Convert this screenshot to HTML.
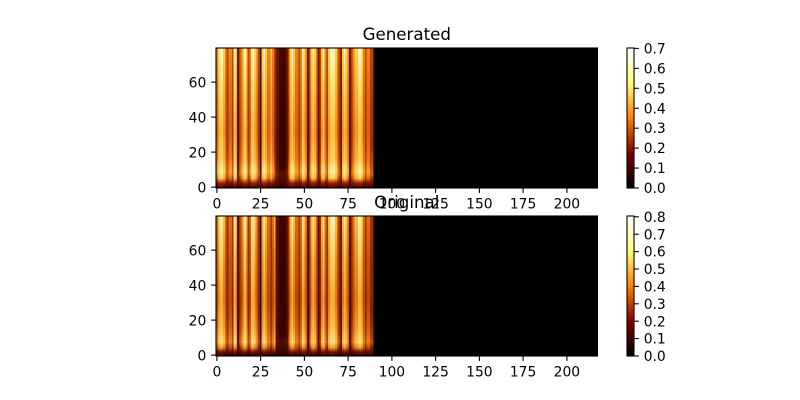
<!DOCTYPE html>
<html><head><meta charset="utf-8"><style>
html,body{margin:0;padding:0;background:#fff;}
svg{display:block;}
text{font-family:"DejaVu Sans","Liberation Sans",sans-serif;fill:#000;}
.t{font-size:13.89px;}
.ti{font-size:16.67px;}
</style></head><body>
<svg width="800" height="400" viewBox="0 0 800 400" xmlns="http://www.w3.org/2000/svg">
<defs>
<linearGradient id="aW" x1="0" y1="0" x2="0" y2="1"><stop offset="0" stop-color="#fff4c0"/><stop offset="0.3" stop-color="#ffe070"/><stop offset="0.6" stop-color="#ffc040"/><stop offset="0.8" stop-color="#ffd060"/><stop offset="0.88" stop-color="#fff0a0"/><stop offset="0.93" stop-color="#ffd060"/><stop offset="0.965" stop-color="#a02000"/><stop offset="1" stop-color="#500000"/></linearGradient>
<linearGradient id="aY" x1="0" y1="0" x2="0" y2="1"><stop offset="0" stop-color="#ffd050"/><stop offset="0.3" stop-color="#ffb030"/><stop offset="0.6" stop-color="#f89020"/><stop offset="0.8" stop-color="#ffb030"/><stop offset="0.88" stop-color="#ffd860"/><stop offset="0.93" stop-color="#ffb030"/><stop offset="0.965" stop-color="#902000"/><stop offset="1" stop-color="#400000"/></linearGradient>
<linearGradient id="aO" x1="0" y1="0" x2="0" y2="1"><stop offset="0" stop-color="#f08818"/><stop offset="0.3" stop-color="#e07010"/><stop offset="0.6" stop-color="#d86010"/><stop offset="0.8" stop-color="#e87818"/><stop offset="0.88" stop-color="#f8a030"/><stop offset="0.93" stop-color="#e07010"/><stop offset="0.965" stop-color="#701000"/><stop offset="1" stop-color="#400000"/></linearGradient>
<linearGradient id="aM" x1="0" y1="0" x2="0" y2="1"><stop offset="0" stop-color="#c04800"/><stop offset="0.4" stop-color="#a83800"/><stop offset="0.7" stop-color="#a03000"/><stop offset="0.85" stop-color="#c05008"/><stop offset="0.9" stop-color="#d06010"/><stop offset="0.95" stop-color="#802000"/><stop offset="1" stop-color="#400000"/></linearGradient>
<linearGradient id="aD" x1="0" y1="0" x2="0" y2="1"><stop offset="0" stop-color="#701800"/><stop offset="0.5" stop-color="#601000"/><stop offset="0.8" stop-color="#581000"/><stop offset="0.9" stop-color="#702000"/><stop offset="1" stop-color="#400000"/></linearGradient>
<linearGradient id="aK" x1="0" y1="0" x2="0" y2="1"><stop offset="0" stop-color="#440800"/><stop offset="0.5" stop-color="#380400"/><stop offset="0.85" stop-color="#3a0400"/><stop offset="0.9" stop-color="#601000"/><stop offset="1" stop-color="#300000"/></linearGradient>

<linearGradient id="bW" x1="0" y1="0" x2="0" y2="1"><stop offset="0" stop-color="#fff0b0"/><stop offset="0.3" stop-color="#ffd060"/><stop offset="0.6" stop-color="#f8a830"/><stop offset="0.8" stop-color="#ffc050"/><stop offset="0.9" stop-color="#ffe080"/><stop offset="0.94" stop-color="#f0a030"/><stop offset="0.97" stop-color="#801800"/><stop offset="1" stop-color="#400000"/></linearGradient>
<linearGradient id="bY" x1="0" y1="0" x2="0" y2="1"><stop offset="0" stop-color="#ffc040"/><stop offset="0.3" stop-color="#f09020"/><stop offset="0.6" stop-color="#e07818"/><stop offset="0.8" stop-color="#f09828"/><stop offset="0.9" stop-color="#ffc050"/><stop offset="0.94" stop-color="#e08020"/><stop offset="0.97" stop-color="#701000"/><stop offset="1" stop-color="#380000"/></linearGradient>
<linearGradient id="bO" x1="0" y1="0" x2="0" y2="1"><stop offset="0" stop-color="#e07010"/><stop offset="0.3" stop-color="#c85808"/><stop offset="0.6" stop-color="#b84800"/><stop offset="0.8" stop-color="#d06010"/><stop offset="0.9" stop-color="#e88020"/><stop offset="0.94" stop-color="#c05008"/><stop offset="0.97" stop-color="#601000"/><stop offset="1" stop-color="#380000"/></linearGradient>
<linearGradient id="bM" x1="0" y1="0" x2="0" y2="1"><stop offset="0" stop-color="#a83000"/><stop offset="0.4" stop-color="#902800"/><stop offset="0.7" stop-color="#882000"/><stop offset="0.85" stop-color="#a83800"/><stop offset="0.9" stop-color="#c05008"/><stop offset="0.95" stop-color="#701800"/><stop offset="1" stop-color="#380000"/></linearGradient>
<linearGradient id="bD" x1="0" y1="0" x2="0" y2="1"><stop offset="0" stop-color="#601000"/><stop offset="0.5" stop-color="#501000"/><stop offset="0.8" stop-color="#4a0800"/><stop offset="0.9" stop-color="#601000"/><stop offset="1" stop-color="#300000"/></linearGradient>
<linearGradient id="bK" x1="0" y1="0" x2="0" y2="1"><stop offset="0" stop-color="#400400"/><stop offset="0.5" stop-color="#340200"/><stop offset="0.85" stop-color="#380400"/><stop offset="0.9" stop-color="#501000"/><stop offset="1" stop-color="#300000"/></linearGradient>

<linearGradient id="cb" x1="0" y1="1" x2="0" y2="0"><stop offset="0" stop-color="#000000"/><stop offset="0.25" stop-color="#800000"/><stop offset="0.5" stop-color="#ff8000"/><stop offset="0.75" stop-color="#ffff80"/><stop offset="1" stop-color="#ffffff"/></linearGradient>
</defs>

<!-- ===== TOP: Generated ===== -->
<text class="ti" x="406.75" y="40" text-anchor="middle">Generated</text>
<svg x="216" y="48" width="381.5" height="140" viewBox="0 0 218 80" preserveAspectRatio="none" shape-rendering="crispEdges">
<rect x="0" y="0" width="218" height="80" fill="#000"/>
<rect x="0" y="0" width="1" height="80" fill="url(#aO)"/>
<rect x="1" y="0" width="1" height="80" fill="url(#aY)"/>
<rect x="2" y="0" width="2" height="80" fill="url(#aW)"/>
<rect x="4" y="0" width="1" height="80" fill="url(#aY)"/>
<rect x="5" y="0" width="1" height="80" fill="url(#aO)"/>
<rect x="6" y="0" width="1" height="80" fill="url(#aM)"/>
<rect x="7" y="0" width="2" height="80" fill="url(#aO)"/>
<rect x="9" y="0" width="1" height="80" fill="url(#aM)"/>
<rect x="10" y="0" width="1" height="80" fill="url(#aW)"/>
<rect x="11" y="0" width="1" height="80" fill="url(#aY)"/>
<rect x="12" y="0" width="1" height="80" fill="url(#aD)"/>
<rect x="13" y="0" width="1" height="80" fill="url(#aM)"/>
<rect x="14" y="0" width="1" height="80" fill="url(#aO)"/>
<rect x="15" y="0" width="1" height="80" fill="url(#aY)"/>
<rect x="16" y="0" width="1" height="80" fill="url(#aW)"/>
<rect x="17" y="0" width="1" height="80" fill="url(#aY)"/>
<rect x="18" y="0" width="1" height="80" fill="url(#aM)"/>
<rect x="19" y="0" width="1" height="80" fill="url(#aO)"/>
<rect x="20" y="0" width="2" height="80" fill="url(#aW)"/>
<rect x="22" y="0" width="1" height="80" fill="url(#aY)"/>
<rect x="23" y="0" width="1" height="80" fill="url(#aO)"/>
<rect x="24" y="0" width="1" height="80" fill="url(#aM)"/>
<rect x="25" y="0" width="1" height="80" fill="url(#aK)"/>
<rect x="26" y="0" width="1" height="80" fill="url(#aY)"/>
<rect x="27" y="0" width="1" height="80" fill="url(#aW)"/>
<rect x="28" y="0" width="1" height="80" fill="url(#aY)"/>
<rect x="29" y="0" width="2" height="80" fill="url(#aO)"/>
<rect x="31" y="0" width="1" height="80" fill="url(#aY)"/>
<rect x="32" y="0" width="1" height="80" fill="url(#aO)"/>
<rect x="33" y="0" width="1" height="80" fill="url(#aM)"/>
<rect x="34" y="0" width="2" height="80" fill="url(#aD)"/>
<rect x="36" y="0" width="4" height="80" fill="url(#aK)"/>
<rect x="40" y="0" width="1" height="80" fill="url(#aD)"/>
<rect x="41" y="0" width="1" height="80" fill="url(#aM)"/>
<rect x="42" y="0" width="1" height="80" fill="url(#aY)"/>
<rect x="43" y="0" width="1" height="80" fill="url(#aW)"/>
<rect x="44" y="0" width="1" height="80" fill="url(#aY)"/>
<rect x="45" y="0" width="2" height="80" fill="url(#aO)"/>
<rect x="47" y="0" width="1" height="80" fill="url(#aM)"/>
<rect x="48" y="0" width="1" height="80" fill="url(#aO)"/>
<rect x="49" y="0" width="1" height="80" fill="url(#aW)"/>
<rect x="50" y="0" width="1" height="80" fill="url(#aY)"/>
<rect x="51" y="0" width="1" height="80" fill="url(#aO)"/>
<rect x="52" y="0" width="1" height="80" fill="url(#aD)"/>
<rect x="53" y="0" width="1" height="80" fill="url(#aM)"/>
<rect x="54" y="0" width="1" height="80" fill="url(#aY)"/>
<rect x="55" y="0" width="1" height="80" fill="url(#aW)"/>
<rect x="56" y="0" width="1" height="80" fill="url(#aY)"/>
<rect x="57" y="0" width="1" height="80" fill="url(#aO)"/>
<rect x="58" y="0" width="1" height="80" fill="url(#aD)"/>
<rect x="59" y="0" width="1" height="80" fill="url(#aM)"/>
<rect x="60" y="0" width="1" height="80" fill="url(#aY)"/>
<rect x="61" y="0" width="1" height="80" fill="url(#aW)"/>
<rect x="62" y="0" width="1" height="80" fill="url(#aO)"/>
<rect x="63" y="0" width="1" height="80" fill="url(#aM)"/>
<rect x="64" y="0" width="1" height="80" fill="url(#aY)"/>
<rect x="65" y="0" width="3" height="80" fill="url(#aW)"/>
<rect x="68" y="0" width="1" height="80" fill="url(#aY)"/>
<rect x="69" y="0" width="1" height="80" fill="url(#aO)"/>
<rect x="70" y="0" width="1" height="80" fill="url(#aM)"/>
<rect x="71" y="0" width="1" height="80" fill="url(#aD)"/>
<rect x="72" y="0" width="1" height="80" fill="url(#aY)"/>
<rect x="73" y="0" width="1" height="80" fill="url(#aW)"/>
<rect x="74" y="0" width="1" height="80" fill="url(#aY)"/>
<rect x="75" y="0" width="1" height="80" fill="url(#aO)"/>
<rect x="76" y="0" width="1" height="80" fill="url(#aD)"/>
<rect x="77" y="0" width="1" height="80" fill="url(#aM)"/>
<rect x="78" y="0" width="1" height="80" fill="url(#aO)"/>
<rect x="79" y="0" width="2" height="80" fill="url(#aY)"/>
<rect x="81" y="0" width="2" height="80" fill="url(#aW)"/>
<rect x="83" y="0" width="1" height="80" fill="url(#aY)"/>
<rect x="84" y="0" width="1" height="80" fill="url(#aO)"/>
<rect x="85" y="0" width="1" height="80" fill="url(#aM)"/>
<rect x="86" y="0" width="2" height="80" fill="url(#aO)"/>
<rect x="88" y="0" width="2" height="80" fill="url(#aM)"/>
</svg>
<rect x="216" y="48" width="381.5" height="140" fill="none" stroke="#000" stroke-width="1.1"/>
<g stroke="#000" stroke-width="1.1">
<line x1="216.9" y1="188" x2="216.9" y2="192.9"/><line x1="260.6" y1="188" x2="260.6" y2="192.9"/><line x1="304.4" y1="188" x2="304.4" y2="192.9"/><line x1="348.1" y1="188" x2="348.1" y2="192.9"/><line x1="391.9" y1="188" x2="391.9" y2="192.9"/><line x1="435.6" y1="188" x2="435.6" y2="192.9"/><line x1="479.4" y1="188" x2="479.4" y2="192.9"/><line x1="523.1" y1="188" x2="523.1" y2="192.9"/><line x1="566.9" y1="188" x2="566.9" y2="192.9"/>
<line x1="211.1" y1="187.1" x2="216" y2="187.1"/><line x1="211.1" y1="152.1" x2="216" y2="152.1"/><line x1="211.1" y1="117.1" x2="216" y2="117.1"/><line x1="211.1" y1="82.1" x2="216" y2="82.1"/>
</g>
<g class="t" text-anchor="middle">
<text class="t" x="216.9" y="208.3">0</text><text class="t" x="260.6" y="208.3">25</text><text class="t" x="304.4" y="208.3">50</text><text class="t" x="348.1" y="208.3">75</text><text class="t" x="391.9" y="208.3">100</text><text class="t" x="435.6" y="208.3">125</text><text class="t" x="479.4" y="208.3">150</text><text class="t" x="523.1" y="208.3">175</text><text class="t" x="566.9" y="208.3">200</text>
</g>
<g text-anchor="end">
<text class="t" x="206.3" y="192.3">0</text><text class="t" x="206.3" y="157.3">20</text><text class="t" x="206.3" y="122.3">40</text><text class="t" x="206.3" y="87.3">60</text>
</g>
<!-- colorbar top -->
<rect x="627" y="48" width="7" height="140" fill="url(#cb)" stroke="#000" stroke-width="1.1"/>
<g stroke="#000" stroke-width="1.1">
<line x1="634" y1="188" x2="638.9" y2="188"/><line x1="634" y1="168.06" x2="638.9" y2="168.06"/><line x1="634" y1="148.11" x2="638.9" y2="148.11"/><line x1="634" y1="128.17" x2="638.9" y2="128.17"/><line x1="634" y1="108.23" x2="638.9" y2="108.23"/><line x1="634" y1="88.29" x2="638.9" y2="88.29"/><line x1="634" y1="68.34" x2="638.9" y2="68.34"/><line x1="634" y1="48.4" x2="638.9" y2="48.4"/>
</g>
<g>
<text class="t" x="643.7" y="193.1">0.0</text><text class="t" x="643.7" y="173.1">0.1</text><text class="t" x="643.7" y="153.2">0.2</text><text class="t" x="643.7" y="133.2">0.3</text><text class="t" x="643.7" y="113.3">0.4</text><text class="t" x="643.7" y="93.3">0.5</text><text class="t" x="643.7" y="73.4">0.6</text><text class="t" x="643.7" y="53.5">0.7</text>
</g>

<!-- ===== BOTTOM: Original ===== -->
<svg x="216" y="216" width="381.5" height="140" viewBox="0 0 218 80" preserveAspectRatio="none" shape-rendering="crispEdges">
<rect x="0" y="0" width="218" height="80" fill="#000"/>
<rect x="0" y="0" width="1" height="80" fill="url(#bO)"/>
<rect x="1" y="0" width="1" height="80" fill="url(#bY)"/>
<rect x="2" y="0" width="2" height="80" fill="url(#bW)"/>
<rect x="4" y="0" width="1" height="80" fill="url(#bY)"/>
<rect x="5" y="0" width="1" height="80" fill="url(#bO)"/>
<rect x="6" y="0" width="1" height="80" fill="url(#bM)"/>
<rect x="7" y="0" width="2" height="80" fill="url(#bO)"/>
<rect x="9" y="0" width="1" height="80" fill="url(#bM)"/>
<rect x="10" y="0" width="1" height="80" fill="url(#bW)"/>
<rect x="11" y="0" width="1" height="80" fill="url(#bY)"/>
<rect x="12" y="0" width="1" height="80" fill="url(#bD)"/>
<rect x="13" y="0" width="1" height="80" fill="url(#bM)"/>
<rect x="14" y="0" width="1" height="80" fill="url(#bO)"/>
<rect x="15" y="0" width="1" height="80" fill="url(#bY)"/>
<rect x="16" y="0" width="1" height="80" fill="url(#bW)"/>
<rect x="17" y="0" width="1" height="80" fill="url(#bY)"/>
<rect x="18" y="0" width="1" height="80" fill="url(#bM)"/>
<rect x="19" y="0" width="1" height="80" fill="url(#bO)"/>
<rect x="20" y="0" width="2" height="80" fill="url(#bW)"/>
<rect x="22" y="0" width="1" height="80" fill="url(#bY)"/>
<rect x="23" y="0" width="1" height="80" fill="url(#bO)"/>
<rect x="24" y="0" width="1" height="80" fill="url(#bM)"/>
<rect x="25" y="0" width="1" height="80" fill="url(#bK)"/>
<rect x="26" y="0" width="1" height="80" fill="url(#bY)"/>
<rect x="27" y="0" width="1" height="80" fill="url(#bW)"/>
<rect x="28" y="0" width="1" height="80" fill="url(#bY)"/>
<rect x="29" y="0" width="2" height="80" fill="url(#bO)"/>
<rect x="31" y="0" width="1" height="80" fill="url(#bM)"/>
<rect x="32" y="0" width="1" height="80" fill="url(#bO)"/>
<rect x="33" y="0" width="1" height="80" fill="url(#bY)"/>
<rect x="34" y="0" width="2" height="80" fill="url(#bD)"/>
<rect x="36" y="0" width="4" height="80" fill="url(#bK)"/>
<rect x="40" y="0" width="1" height="80" fill="url(#bD)"/>
<rect x="41" y="0" width="1" height="80" fill="url(#bM)"/>
<rect x="42" y="0" width="1" height="80" fill="url(#bY)"/>
<rect x="43" y="0" width="1" height="80" fill="url(#bW)"/>
<rect x="44" y="0" width="1" height="80" fill="url(#bY)"/>
<rect x="45" y="0" width="2" height="80" fill="url(#bO)"/>
<rect x="47" y="0" width="1" height="80" fill="url(#bM)"/>
<rect x="48" y="0" width="1" height="80" fill="url(#bO)"/>
<rect x="49" y="0" width="1" height="80" fill="url(#bW)"/>
<rect x="50" y="0" width="1" height="80" fill="url(#bY)"/>
<rect x="51" y="0" width="1" height="80" fill="url(#bO)"/>
<rect x="52" y="0" width="1" height="80" fill="url(#bD)"/>
<rect x="53" y="0" width="1" height="80" fill="url(#bM)"/>
<rect x="54" y="0" width="1" height="80" fill="url(#bY)"/>
<rect x="55" y="0" width="1" height="80" fill="url(#bW)"/>
<rect x="56" y="0" width="1" height="80" fill="url(#bY)"/>
<rect x="57" y="0" width="1" height="80" fill="url(#bO)"/>
<rect x="58" y="0" width="1" height="80" fill="url(#bD)"/>
<rect x="59" y="0" width="1" height="80" fill="url(#bM)"/>
<rect x="60" y="0" width="1" height="80" fill="url(#bY)"/>
<rect x="61" y="0" width="1" height="80" fill="url(#bW)"/>
<rect x="62" y="0" width="1" height="80" fill="url(#bO)"/>
<rect x="63" y="0" width="1" height="80" fill="url(#bM)"/>
<rect x="64" y="0" width="1" height="80" fill="url(#bY)"/>
<rect x="65" y="0" width="3" height="80" fill="url(#bW)"/>
<rect x="68" y="0" width="1" height="80" fill="url(#bY)"/>
<rect x="69" y="0" width="1" height="80" fill="url(#bO)"/>
<rect x="70" y="0" width="1" height="80" fill="url(#bM)"/>
<rect x="71" y="0" width="1" height="80" fill="url(#bD)"/>
<rect x="72" y="0" width="1" height="80" fill="url(#bY)"/>
<rect x="73" y="0" width="1" height="80" fill="url(#bW)"/>
<rect x="74" y="0" width="1" height="80" fill="url(#bY)"/>
<rect x="75" y="0" width="1" height="80" fill="url(#bO)"/>
<rect x="76" y="0" width="1" height="80" fill="url(#bD)"/>
<rect x="77" y="0" width="1" height="80" fill="url(#bM)"/>
<rect x="78" y="0" width="1" height="80" fill="url(#bO)"/>
<rect x="79" y="0" width="2" height="80" fill="url(#bY)"/>
<rect x="81" y="0" width="2" height="80" fill="url(#bW)"/>
<rect x="83" y="0" width="1" height="80" fill="url(#bY)"/>
<rect x="84" y="0" width="1" height="80" fill="url(#bO)"/>
<rect x="85" y="0" width="1" height="80" fill="url(#bM)"/>
<rect x="86" y="0" width="2" height="80" fill="url(#bO)"/>
<rect x="88" y="0" width="2" height="80" fill="url(#bM)"/>
</svg>
<rect x="216" y="216" width="381.5" height="140" fill="none" stroke="#000" stroke-width="1.1"/>
<g stroke="#000" stroke-width="1.1">
<line x1="216.9" y1="356" x2="216.9" y2="360.9"/><line x1="260.6" y1="356" x2="260.6" y2="360.9"/><line x1="304.4" y1="356" x2="304.4" y2="360.9"/><line x1="348.1" y1="356" x2="348.1" y2="360.9"/><line x1="391.9" y1="356" x2="391.9" y2="360.9"/><line x1="435.6" y1="356" x2="435.6" y2="360.9"/><line x1="479.4" y1="356" x2="479.4" y2="360.9"/><line x1="523.1" y1="356" x2="523.1" y2="360.9"/><line x1="566.9" y1="356" x2="566.9" y2="360.9"/>
<line x1="211.1" y1="355.1" x2="216" y2="355.1"/><line x1="211.1" y1="320.1" x2="216" y2="320.1"/><line x1="211.1" y1="285.1" x2="216" y2="285.1"/><line x1="211.1" y1="250.1" x2="216" y2="250.1"/>
</g>
<g text-anchor="middle">
<text class="t" x="216.9" y="376.3">0</text><text class="t" x="260.6" y="376.3">25</text><text class="t" x="304.4" y="376.3">50</text><text class="t" x="348.1" y="376.3">75</text><text class="t" x="391.9" y="376.3">100</text><text class="t" x="435.6" y="376.3">125</text><text class="t" x="479.4" y="376.3">150</text><text class="t" x="523.1" y="376.3">175</text><text class="t" x="566.9" y="376.3">200</text>
</g>
<g text-anchor="end">
<text class="t" x="206.3" y="360.3">0</text><text class="t" x="206.3" y="325.3">20</text><text class="t" x="206.3" y="290.3">40</text><text class="t" x="206.3" y="255.3">60</text>
</g>
<!-- colorbar bottom -->
<rect x="627" y="216" width="7" height="140" fill="url(#cb)" stroke="#000" stroke-width="1.1"/>
<g stroke="#000" stroke-width="1.1">
<line x1="634" y1="356" x2="638.9" y2="356"/><line x1="634" y1="338.6" x2="638.9" y2="338.6"/><line x1="634" y1="321.2" x2="638.9" y2="321.2"/><line x1="634" y1="303.8" x2="638.9" y2="303.8"/><line x1="634" y1="286.4" x2="638.9" y2="286.4"/><line x1="634" y1="269" x2="638.9" y2="269"/><line x1="634" y1="251.6" x2="638.9" y2="251.6"/><line x1="634" y1="234.2" x2="638.9" y2="234.2"/><line x1="634" y1="216.8" x2="638.9" y2="216.8"/>
</g>
<g>
<text class="t" x="643.7" y="361.1">0.0</text><text class="t" x="643.7" y="343.7">0.1</text><text class="t" x="643.7" y="326.3">0.2</text><text class="t" x="643.7" y="308.9">0.3</text><text class="t" x="643.7" y="291.5">0.4</text><text class="t" x="643.7" y="274.1">0.5</text><text class="t" x="643.7" y="256.7">0.6</text><text class="t" x="643.7" y="239.3">0.7</text><text class="t" x="643.7" y="221.9">0.8</text>
</g>
<!-- title Original drawn last (overlaps top tick labels) -->
<text class="ti" x="406.75" y="208">Original</text>
</svg>
<style>.ti[x="406.75"][y="208"]{text-anchor:middle;}</style>
</body></html>
